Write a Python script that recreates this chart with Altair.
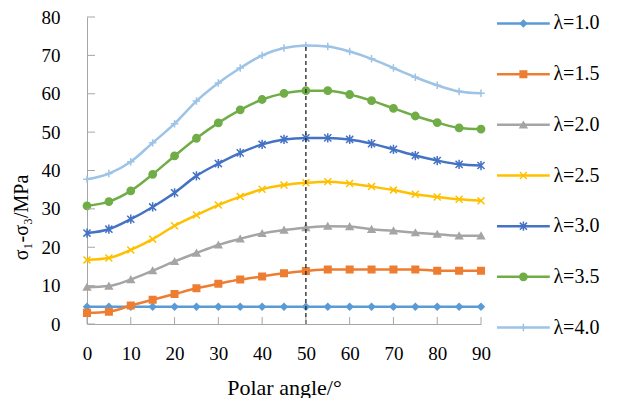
import altair as alt
import pandas as pd

angles = [0, 5, 10, 15, 20, 25, 30, 35, 40, 45, 50, 55, 60, 65, 70, 75, 80, 85, 90]
s10 = [4.5, 4.5, 4.5, 4.5, 4.5, 4.5, 4.5, 4.5, 4.5, 4.5, 4.5, 4.5, 4.5, 4.5, 4.5, 4.5, 4.5, 4.5, 4.5]
s15 = [2.9, 3.2, 4.8, 6.3, 7.8, 9.3, 10.5, 11.6, 12.4, 13.2, 13.8, 14.2, 14.2, 14.2, 14.2, 14.2, 13.9, 13.9, 13.9]
s20 = [9.6, 9.9, 11.6, 13.9, 16.3, 18.5, 20.6, 22.2, 23.6, 24.5, 25.1, 25.5, 25.4, 24.7, 24.3, 23.8, 23.4, 23.0, 23.0]
s25 = [16.7, 17.2, 19.3, 22.1, 25.6, 28.4, 31.0, 33.2, 35.1, 36.2, 36.8, 37.1, 36.6, 35.8, 34.9, 33.8, 33.1, 32.5, 32.1]
s30 = [23.7, 24.7, 27.3, 30.5, 34.2, 38.6, 41.8, 44.6, 46.8, 48.1, 48.5, 48.5, 48.1, 47.0, 45.5, 43.9, 42.6, 41.6, 41.3]
s35 = [30.8, 31.9, 34.7, 39.0, 43.8, 48.4, 52.4, 55.8, 58.5, 60.1, 60.8, 60.8, 59.8, 58.2, 56.2, 54.2, 52.5, 51.1, 50.8]
s40 = [37.7, 39.2, 42.3, 47.2, 52.2, 58.1, 62.8, 66.7, 70.0, 71.9, 72.6, 72.3, 71.0, 69.1, 66.7, 64.3, 62.2, 60.6, 60.1]

names = ["λ=1.0", "λ=1.5", "λ=2.0", "λ=2.5", "λ=3.0", "λ=3.5", "λ=4.0"]
series = [s10, s15, s20, s25, s30, s35, s40]
colors = ["#5B9BD5", "#ED7D31", "#A5A5A5", "#FFC000", "#4472C4", "#70AD47", "#9DC3E6"]
shapes = ["diamond", "square", "triangle-up",
          "M-1,-1L1,1M1,-1L-1,1",
          "M-1,-1L1,1M1,-1L-1,1M0,-1.3L0,1.3",
          "circle",
          "M0,-1L0,1M-1,0L1,0"]
sizes = [40, 56, 64, 70, 70, 45, 80]
legend_sizes = [30, 45, 50, 60, 60, 36, 70]

xticks = [0, 10, 20, 30, 40, 50, 60, 70, 80, 90]
yticks = [0, 10, 20, 30, 40, 50, 60, 70, 80]
vline_x = [50]

FONT = "Liberation Serif"
AXC = "#A6A6A6"
W, H = 394, 307

rows = []
for n, s in zip(names, series):
    for a, v in zip(angles, s):
        rows.append({"series": n, "angle": a, "sigma": v})
df = pd.DataFrame(rows)

cs = alt.Scale(domain=names, range=colors)
ss = alt.Scale(domain=names, range=shapes)
zs = alt.Scale(domain=names, range=sizes)
lzs = alt.Scale(domain=names, range=legend_sizes)
xs = alt.Scale(domain=[0, 90], nice=False, zero=False)
ys = alt.Scale(domain=[0, 80], nice=False)

xax = alt.Axis(values=xticks, title="Polar angle/°", ticks=False, tickSize=0, grid=False,
               labelPadding=20, titlePadding=14, titleFontSize=22, labelFontSize=19,
               labelColor="black", titleColor="black", domainColor=AXC, domainWidth=1,
               labelFlush=False, labelOverlap=False)
yax = alt.Axis(values=yticks, title="σ₁-σ₃/MPa", ticks=False, tickSize=0, grid=False,
               labelPadding=27, titlePadding=10, titleFontSize=20, labelFontSize=19,
               labelColor="black", titleColor="black", domainColor=AXC, domainWidth=1,
               titleY=200, labelFlush=False, labelOverlap=False)

XE = alt.X("angle:Q", scale=xs, axis=xax)
YE = alt.Y("sigma:Q", scale=ys, axis=yax)

lines = alt.Chart(df).mark_line(interpolate="monotone", strokeWidth=2.5).encode(
    x=XE, y=YE, color=alt.Color("series:N", scale=cs, legend=None)
)
pts = alt.Chart(df).mark_point(filled=True, strokeWidth=1.5, opacity=1).encode(
    x=XE, y=YE,
    fill=alt.Fill("series:N", scale=cs, legend=None),
    stroke=alt.Stroke("series:N", scale=cs, legend=None),
    shape=alt.Shape("series:N", scale=ss, legend=None),
    size=alt.Size("series:N", scale=zs, legend=None),
)

ytdf = pd.DataFrame({"sigma": yticks})
xtdf = pd.DataFrame({"angle": xticks})
ytk = alt.Chart(ytdf).mark_rule(color=AXC, strokeWidth=1).encode(
    y=YE, x=alt.value(0), x2=alt.value(8))
xtk = alt.Chart(xtdf).mark_rule(color=AXC, strokeWidth=1).encode(
    x=XE, y=alt.value(H), y2=alt.value(H - 7))

vdf = pd.DataFrame({"angle": vline_x, "sigma": [0], "hi": [s40[angles.index(50)]]})
vline = alt.Chart(vdf).mark_rule(color="#222222", strokeDash=[4, 3], strokeWidth=1.3).encode(
    x=XE, y=YE, y2="hi:Q")

main = alt.layer(lines, pts, vline, ytk, xtk).properties(width=W, height=H)

legdf = pd.DataFrame({"series": names})
lx = alt.Scale(domain=[0, 1], nice=False)
ly = alt.Scale(domain=names, type="point", padding=0.128)
lbase = alt.Chart(legdf).encode(y=alt.Y("series:N", scale=ly, axis=None))
lrule = lbase.mark_rule(strokeWidth=2.5).encode(
    x=alt.X(datum=0.05, scale=lx, axis=None), x2=alt.X2(datum=0.49),
    color=alt.Color("series:N", scale=cs, legend=None))
lpts = lbase.mark_point(filled=True, strokeWidth=1.5, opacity=1).encode(
    x=alt.X(datum=0.27, scale=lx, axis=None),
    fill=alt.Fill("series:N", scale=cs, legend=None),
    stroke=alt.Stroke("series:N", scale=cs, legend=None),
    shape=alt.Shape("series:N", scale=ss, legend=None),
    size=alt.Size("series:N", scale=lzs, legend=None))
ltxt = lbase.mark_text(align="left", baseline="middle", fontSize=20, color="black",
                       font=FONT).encode(
    x=alt.X(datum=0.52, scale=lx, axis=None), text="series:N")
legend = alt.layer(lrule, lpts, ltxt).properties(width=120, height=317)

chart = alt.hconcat(main, legend, spacing=10, bounds="flush").configure_view(
    stroke=None
).configure_axis(
    labelFont=FONT, titleFont=FONT, titleFontWeight="normal"
).properties(
    padding={"left": 3, "top": 0, "right": 5, "bottom": 0})

chart.save("out.html", embed_options={"renderer": "svg", "actions": False})
